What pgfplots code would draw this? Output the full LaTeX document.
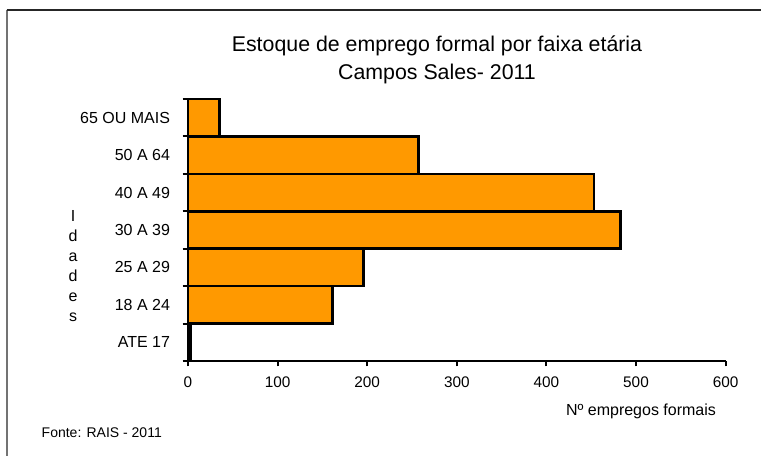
\documentclass[border=0pt]{standalone}
\usepackage{pgfplots}
\pgfplotsset{compat=1.18}
\usepackage{fontspec}
\setmainfont{Liberation Sans}
\definecolor{barorange}{HTML}{FF9900}
\begin{document}
\begin{tikzpicture}[x=0.75pt,y=0.75pt]
\path[use as bounding box] (0,0) rectangle (761,456);
\draw[line width=1.4pt, black!55] (7,0) -- (7,446);
\draw[line width=1.1pt, black!85] (6.5,446) -- (761,446);
\node[font=\fontsize{16}{20.5}\selectfont, align=center] at (437,396) {Estoque de emprego formal por faixa etária\\Campos Sales- 2011};
\node[font=\fontsize{12}{15}\selectfont, align=center] at (73,190) {I\\d\\a\\d\\e\\s};
\node[font=\fontsize{12}{14}\selectfont] at (641,45) {Nº empregos formais};
\node[font=\fontsize{10.5}{12}\selectfont, anchor=west] at (37,23) {Fonte: RAIS - 2011};
\begin{axis}[
  at={(141pt,71.25pt)}, anchor=south west,
  scale only axis, width=403.2pt, height=196.5pt,
  xbar, bar width=1,
  xmin=0, xmax=600, ymin=-0.5, ymax=6.5,
  axis x line*=bottom, axis y line*=left,
  axis line style={line width=2.2pt, black},
  xtick={0,100,...,600},
  ytick={0,...,6},
  yticklabels={ATE 17,18 A 24,25 A 29,30 A 39,40 A 49,50 A 64,65 OU MAIS},
  ytick style={draw=none},
  extra y ticks={-0.5,0.5,1.5,2.5,3.5,4.5,5.5,6.5},
  extra y tick labels={},
  extra y tick style={ytick style={draw=black, line width=1.5pt}},
  xtick style={draw=black, line width=1.5pt},
  tick align=outside,
  major tick length=4pt,
  /pgf/number format/assume math mode=true,
  xticklabel style={font=\fontsize{11.5}{13}\selectfont, yshift=-4.5pt},
  yticklabel style={font=\fontsize{12}{14}\selectfont, xshift=-6pt},
  clip=false,
]
\addplot[xbar, bar width=1, fill=barorange, draw=black, line width=2pt] coordinates {
  (3,0) (161,1) (196,2) (483,3) (453,4) (257,5) (35,6)
};
\end{axis}
\end{tikzpicture}
\end{document}
